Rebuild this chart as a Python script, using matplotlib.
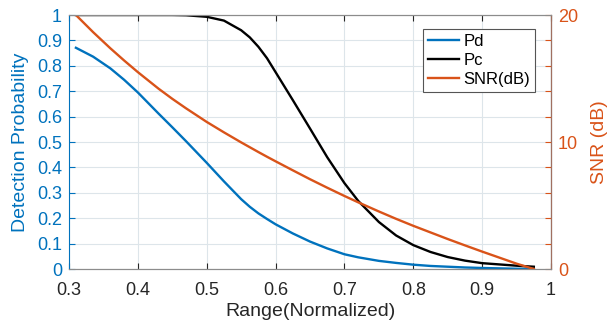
import matplotlib.pyplot as plt
import numpy as np

plt.rcParams['font.family'] = ['Liberation Sans', 'DejaVu Sans']

# values
rng = [0.31, 0.335, 0.36, 0.38, 0.40, 0.43, 0.45, 0.47, 0.50, 0.525, 0.55, 0.5625, 0.575, 0.5875,
       0.60, 0.625, 0.65, 0.675, 0.70, 0.72, 0.75, 0.775, 0.80, 0.825, 0.85, 0.875, 0.90, 0.95, 0.975]
pd_vals = [0.871, 0.836, 0.790, 0.745, 0.695, 0.612, 0.558, 0.503, 0.418, 0.345, 0.275, 0.245, 0.219, 0.197,
           0.176, 0.140, 0.108, 0.081, 0.058, 0.046, 0.032, 0.024, 0.017, 0.012, 0.009, 0.006, 0.004, 0.001, 0.0]
pc_vals = [1.0, 1.0, 1.0, 1.0, 1.0, 1.0, 1.0, 0.999, 0.993, 0.978, 0.940, 0.912, 0.875, 0.830,
           0.775, 0.665, 0.553, 0.440, 0.338, 0.268, 0.185, 0.132, 0.094, 0.067, 0.047, 0.033, 0.023, 0.013, 0.009]
snr_vals = [20.0, 18.65, 17.38, 16.42, 15.5, 14.2, 13.4, 12.65, 11.58, 10.76, 9.97, 9.59, 9.21, 8.84,
            8.48, 7.77, 7.07, 6.4, 5.75, 5.25, 4.53, 3.95, 3.4, 2.88, 2.36, 1.86, 1.37, 0.42, 0.0]

blue = '#0072BD'
orange = '#D95319'

fig = plt.figure(figsize=(6.13, 3.25), dpi=100)
ax = fig.add_axes([0.1126, 0.1723, 0.7863, 0.7815])
ax2 = ax.twinx()

l1, = ax.plot(rng, pd_vals, color=blue, lw=1.7, label='Pd')
l2, = ax.plot(rng, pc_vals, color='black', lw=1.7, label='Pc')
l3, = ax2.plot(rng, snr_vals, color=orange, lw=1.7, label='SNR(dB)')

ax.set_xlim(0.3, 1.0)
ax.set_ylim(0, 1)
ax2.set_ylim(0, 20)
ax.set_xticks(np.arange(0.3, 1.01, 0.1))
ax.set_xticklabels(['0.3', '0.4', '0.5', '0.6', '0.7', '0.8', '0.9', '1'])
ax.set_yticks(np.arange(0, 1.01, 0.1))
ax.set_yticklabels(['0', '0.1', '0.2', '0.3', '0.4', '0.5', '0.6', '0.7', '0.8', '0.9', '1'])
ax2.set_yticks(range(0, 21, 2))
ax2.set_yticklabels([str(v) if v % 10 == 0 else '' for v in range(0, 21, 2)])

ax.grid(True, color='#dde5ea', lw=0.8)
ax.set_axisbelow(True)

ax.tick_params(axis='x', direction='in', top=True, labelsize=13, colors='#262626', length=4, pad=9)
ax.tick_params(axis='y', direction='in', labelsize=13, colors=blue, length=4, pad=5)
ax2.tick_params(axis='y', direction='in', labelsize=13, colors=orange, length=4, pad=5)

for s in ['top', 'bottom']:
    ax.spines[s].set_color('#8c8c8c')
ax.spines['left'].set_color(blue)
ax2.spines['left'].set_visible(False)
ax2.spines['right'].set_color('#a07060')
ax2.spines['top'].set_color('#8c8c8c')
ax2.spines['bottom'].set_color('#8c8c8c')

ax.set_xlabel('Range(Normalized)', fontsize=14, color='#262626', labelpad=3)
ax.set_ylabel('Detection Probability', fontsize=14, color=blue, labelpad=6)
ax2.set_ylabel('SNR (dB)', fontsize=14, color=orange, labelpad=9)

leg = ax.legend(handles=[l1, l2, l3], loc='upper right', bbox_to_anchor=(0.967, 0.945),
                borderaxespad=0, fontsize=12, fancybox=False, edgecolor='#555555', framealpha=1,
                handlelength=1.9, borderpad=0.3, labelspacing=0.25, handletextpad=0.25)
leg.get_frame().set_linewidth(0.8)

fig.savefig('out.png', dpi=100)
